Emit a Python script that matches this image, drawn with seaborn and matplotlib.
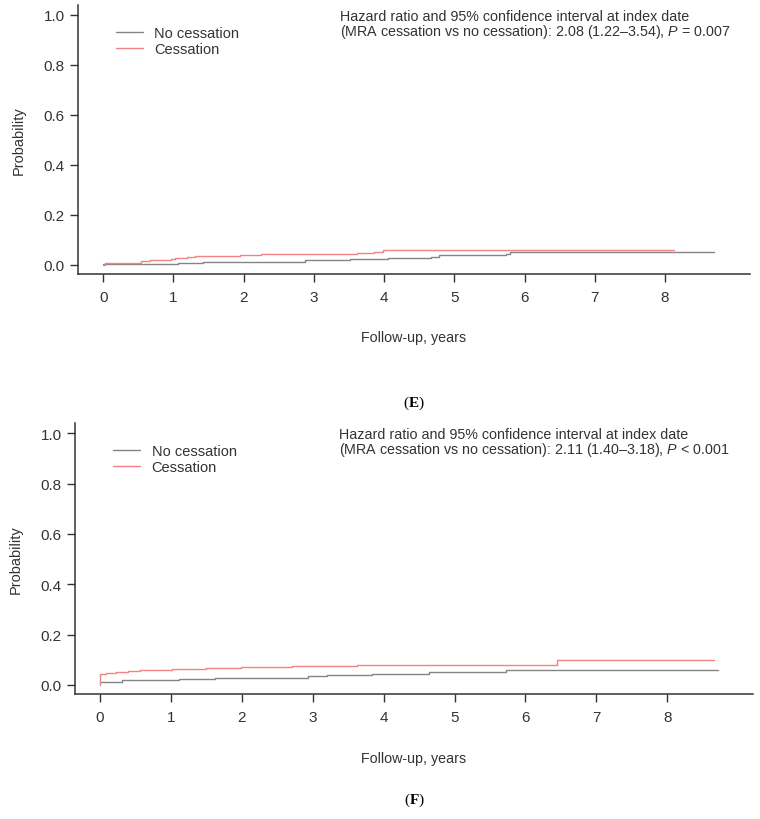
import matplotlib
matplotlib.use("Agg")
import matplotlib.pyplot as plt
import seaborn as sns
import pandas as pd

# ---- data ----
# Panel E
e_nocess_t = [0.0, 1.06, 1.42, 2.87, 3.52, 4.05, 4.67, 4.78, 5.73, 5.79, 8.70]
e_nocess_p = [0.002, 0.008, 0.013, 0.018, 0.022, 0.027, 0.031, 0.038, 0.044, 0.052, 0.052]
e_cess_t = [0.0, 0.02, 0.54, 0.66, 0.97, 1.02, 1.19, 1.31, 1.95, 2.25, 3.61, 3.85, 3.99, 8.13]
e_cess_p = [0.0, 0.008, 0.016, 0.020, 0.025, 0.028, 0.032, 0.035, 0.040, 0.043, 0.047, 0.052, 0.060, 0.060]
# Panel F
f_nocess_t = [0.0, 0.31, 1.12, 1.62, 2.65, 2.94, 3.20, 3.84, 4.64, 5.73, 8.71]
f_nocess_p = [0.013, 0.019, 0.023, 0.027, 0.029, 0.035, 0.038, 0.042, 0.053, 0.060, 0.060]
f_cess_t = [0.0, 0.0, 0.08, 0.23, 0.39, 0.56, 1.01, 1.50, 1.99, 2.71, 3.62, 6.45, 8.66]
f_cess_p = [0.0, 0.044, 0.048, 0.052, 0.056, 0.058, 0.062, 0.066, 0.070, 0.077, 0.080, 0.098, 0.098]

groups = ["No cessation", "Cessation"]
x_ticks = [0, 1, 2, 3, 4, 5, 6, 7, 8]
y_ticks = [0.0, 0.2, 0.4, 0.6, 0.8, 1.0]
annot_E = ["Hazard ratio and 95% confidence interval at index date",
           "(MRA cessation vs no cessation): 2.08 (1.22\u20133.54), $\\mathit{P}$ = 0.007"]
annot_F = ["Hazard ratio and 95% confidence interval at index date",
           "(MRA cessation vs no cessation): 2.11 (1.40\u20133.18), $\\mathit{P}$ < 0.001"]
panel_labels = ["E", "F"]

def frame(t_no, p_no, t_c, p_c):
    rows = []
    for t, p in zip(t_no, p_no):
        rows.append({"time": t, "prob": p, "group": groups[0]})
    for t, p in zip(t_c, p_c):
        rows.append({"time": t, "prob": p, "group": groups[1]})
    return pd.DataFrame(rows)

df_E = frame(e_nocess_t, e_nocess_p, e_cess_t, e_cess_p)
df_F = frame(f_nocess_t, f_nocess_p, f_cess_t, f_cess_p)

# ---- style ----
sns.set_style("ticks")
TXT = "#333333"
plt.rcParams["font.family"] = ["Liberation Sans", "DejaVu Sans"]
plt.rcParams["mathtext.fontset"] = "custom"
plt.rcParams["mathtext.rm"] = "Liberation Sans"
plt.rcParams["mathtext.it"] = "Liberation Sans:italic"
plt.rcParams["mathtext.bf"] = "Liberation Serif:bold"

palette = {"No cessation": "#858585", "Cessation": "#F38282"}

fig = plt.figure(figsize=(7.6, 8.2), dpi=100)
W, H = 760.0, 820.0

def px_axes(x0, x1, ytop, ybot):
    return fig.add_axes([x0 / W, 1 - ybot / H, (x1 - x0) / W, (ybot - ytop) / H])

ax_E = px_axes(78, 750, 6, 275)
ax_F = px_axes(75, 753, 424, 695.3)

panels = [(ax_E, df_E, annot_E, (-0.36, 9.21), (-0.037, 1.04)),
          (ax_F, df_F, annot_F, (-0.353, 9.21), (-0.037, 1.041))]

for ax, df, annot, xl, yl in panels:
    sns.lineplot(data=df, x="time", y="prob", hue="group", hue_order=groups,
                 palette=palette, estimator=None, drawstyle="steps-post",
                 linewidth=1.0, ax=ax)
    ax.set_xlim(*xl)
    ax.set_ylim(*yl)
    ax.set_xticks(x_ticks)
    ax.set_yticks(y_ticks)
    ax.set_yticklabels([f"{v:.1f}" for v in y_ticks])
    for s in ["top", "right"]:
        ax.spines[s].set_visible(False)
    for s in ["left", "bottom"]:
        ax.spines[s].set_color(TXT)
        ax.spines[s].set_linewidth(1.1)
    ax.tick_params(axis="both", direction="out", length=6, width=1.0,
                   color=TXT, labelcolor=TXT, labelsize=11)
    ax.tick_params(axis="x", pad=5.5)
    ax.tick_params(axis="y", pad=3.5)
    ax.set_xlabel("Follow-up, years", fontsize=10.3, color=TXT, labelpad=19)
    ax.set_ylabel("Probability", fontsize=10.5, color=TXT, labelpad=13)
    handles, labels = ax.get_legend_handles_labels()
    ax.legend(handles, labels, loc="upper left", bbox_to_anchor=(0.056, 0.922),
              frameon=False, fontsize=10.5, handlelength=1.85, handletextpad=0.8,
              labelspacing=0.15, borderpad=0, borderaxespad=0, labelcolor=TXT)
    ax.text(0.39, 0.986, annot[0] + "\n" + annot[1], transform=ax.transAxes,
            ha="left", va="top", fontsize=10.3, color=TXT, linespacing=0.92)

fig.text(414 / W, 1 - 403 / H, "($\\mathbf{E}$)", ha="center", va="center",
         fontsize=11, family="Liberation Serif", color="black")
fig.text(414 / W, 1 - 800 / H, "($\\mathbf{F}$)", ha="center", va="center",
         fontsize=11, family="Liberation Serif", color="black")

fig.savefig("out.png", dpi=100)
